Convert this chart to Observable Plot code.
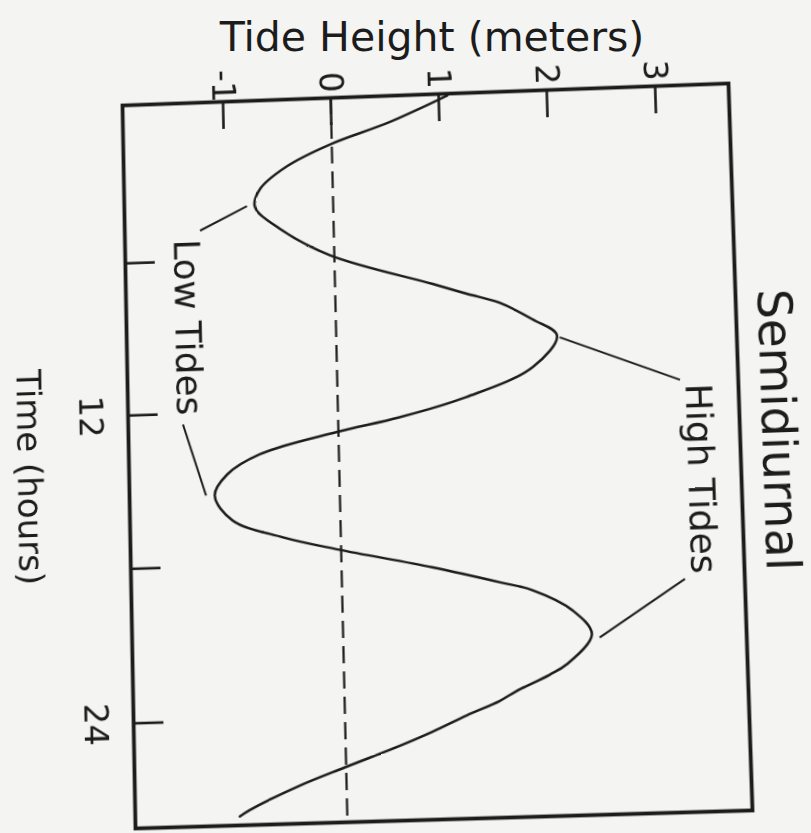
<!DOCTYPE html>
<html>
<head>
<meta charset="utf-8">
<script src="https://cdn.jsdelivr.net/npm/d3@7"></script>
<script src="https://cdn.jsdelivr.net/npm/@observablehq/plot@0.6"></script>
<style>
  html, body { margin: 0; padding: 0; background: #f4f4f2; overflow: hidden; }
  #wrap { position: relative; width: 811px; height: 833px; }
  #title { position: absolute; left: 432px; top: 17px; transform: translateX(-50%);
           font: 41px/41px "DejaVu Sans", sans-serif; color: #1c1c1c; white-space: nowrap; }
  svg { display: block; }
</style>
</head>
<body>
<div id="wrap">
  <div id="title">Tide Height (meters)</div>
</div>
<script>
// ---- data ----
const times   = [-0.2, 0.77, 1.58, 2.38, 3.25, 3.94, 4.84, 5.96, 7.23, 7.66, 8.06, 8.76, 9.42, 10.63, 11.72, 12.42, 12.92, 13.69, 14.43, 15.24, 16.24, 16.96, 17.5, 18.31, 18.97, 19.32, 20.15, 21.1, 22.24, 22.61, 23.2, 23.57, 24.08, 24.67, 25.18, 25.94, 26.6, 27.48, 27.71];
const heights = [1.08, 0.54, -0.02, -0.42, -0.675, -0.725, -0.50, -0.04, 0.90, 1.21, 1.51, 1.81, 2.03, 1.80, 1.18, 0.565, -0.02, -0.73, -1.03, -1.15, -0.99, -0.53, -0.03, 0.83, 1.44, 1.74, 2.10, 2.27, 2.03, 1.875, 1.57, 1.41, 1.11, 0.795, 0.49, -0.01, -0.43, -0.89, -0.98];
const heightTicks = [-1, 0, 1, 2, 3];
const heightTickLabels = ["-1", "0", "1", "2", "3"];
const timeTicks = [6, 12, 18, 24];
const timeTickLabels = [12, 24];
const lowLeaders  = [{h1: -1.237, t1: 4.81, h2: -0.798, t2: 3.90}, {h1: -1.43, t1: 12.42, h2: -1.23, t2: 15.23}];
const highLeaders = [{h1: 2.054, t1: 9.5, h2: 3.144, t2: 11.32}, {h1: 3.132, t1: 19.07, h2: 2.34, t2: 21.23}];
const annotations = [{text: "Low Tides", h: -1.375, t: 8.6}, {text: "High Tides", h: 3.30, t: 15.19}];

const tide = times.map((t, i) => ({time: t, height: heights[i]}));
const ink = "#1c1c1c";
const font = "DejaVu Sans, sans-serif";

const W = 811, H = 833, mL = 122, mR = 83, mT = 105, mB = 5;
const frameW = W - mL - mR, frameH = H - mT - mB;

const chart = Plot.plot({
  width: W, height: H,
  marginLeft: mL, marginRight: mR, marginTop: mT, marginBottom: mB,
  style: {background: "transparent", fontFamily: font, color: ink},
  x: {domain: [-1.9352, 3.6759], axis: null},
  y: {domain: [-0.2743, 28.056], reverse: true, axis: null},
  marks: [
    Plot.ruleX([0], {stroke: ink, strokeWidth: 2.2, strokeDasharray: "17,8"}),
    Plot.tickX(heightTicks, {x: d => d, insetBottom: frameH - 28, stroke: ink, strokeWidth: 2.6}),
    Plot.tickY(timeTicks, {y: d => d, insetRight: frameW - 30, stroke: ink, strokeWidth: 2.6}),
    Plot.line(tide, {x: "height", y: "time", curve: "catmull-rom", stroke: ink, strokeWidth: 2.5}),
    Plot.link(lowLeaders.concat(highLeaders), {x1: "h1", y1: "t1", x2: "h2", y2: "t2", stroke: ink, strokeWidth: 2}),
    Plot.text(heightTicks, {x: d => d, text: (d, i) => heightTickLabels[i], frameAnchor: "top", dy: -16, rotate: 90,
      fontSize: 33, fill: ink, textAnchor: "middle", lineAnchor: "middle"}),
    Plot.text(timeTickLabels, {y: d => d, text: d => String(d), frameAnchor: "left", dx: -38, rotate: 90,
      fontSize: 33, fill: ink, textAnchor: "middle", lineAnchor: "middle"}),
    Plot.text(annotations, {x: "h", y: "t", text: "text", rotate: 90, fontSize: 36, fill: ink,
      textAnchor: "middle", lineAnchor: "middle"}),
    Plot.text(["Semidiurnal"], {frameAnchor: "right", dx: 37, dy: -13, rotate: 90, fontSize: 47, fill: ink,
      textAnchor: "middle", lineAnchor: "middle"}),
    Plot.text(["Time (hours)"], {frameAnchor: "left", dx: -100, dy: 10, rotate: 90, fontSize: 34, fill: ink,
      textAnchor: "middle", lineAnchor: "middle"}),
    Plot.frame({stroke: ink, strokeWidth: 3.8})
  ]
});

// perspective of the photographed page: map the ideal frame onto the skewed frame seen in the picture
function homography(src, dst) {
  const A = [], b = [];
  for (let i = 0; i < 4; i++) {
    const [X, Y] = src[i], [x, y] = dst[i];
    A.push([X, Y, 1, 0, 0, 0, -X * x, -Y * x]); b.push(x);
    A.push([0, 0, 0, X, Y, 1, -X * y, -Y * y]); b.push(y);
  }
  const n = 8;
  for (let c = 0; c < n; c++) {
    let p = c;
    for (let r = c + 1; r < n; r++) if (Math.abs(A[r][c]) > Math.abs(A[p][c])) p = r;
    [A[c], A[p]] = [A[p], A[c]]; [b[c], b[p]] = [b[p], b[c]];
    for (let r = 0; r < n; r++) {
      if (r === c) continue;
      const f = A[r][c] / A[c][c];
      for (let k = c; k < n; k++) A[r][k] -= f * A[c][k];
      b[r] -= f * b[c];
    }
  }
  return A.map((row, i) => b[i] / row[i]);
}
const src = [[mL, mT], [W - mR, mT], [mL, H - mB], [W - mR, H - mB]];
const dst = [[122, 105], [728, 83], [135, 828], [752, 810]];
const [h11, h12, h13, h21, h22, h23, h31, h32] = homography(src, dst);
chart.style.transformOrigin = "0 0";
chart.style.transform = `matrix3d(${h11},${h21},0,${h31},${h12},${h22},0,${h32},0,0,1,0,${h13},${h23},0,1)`;

document.getElementById("wrap").appendChild(chart);
</script>
</body>
</html>
